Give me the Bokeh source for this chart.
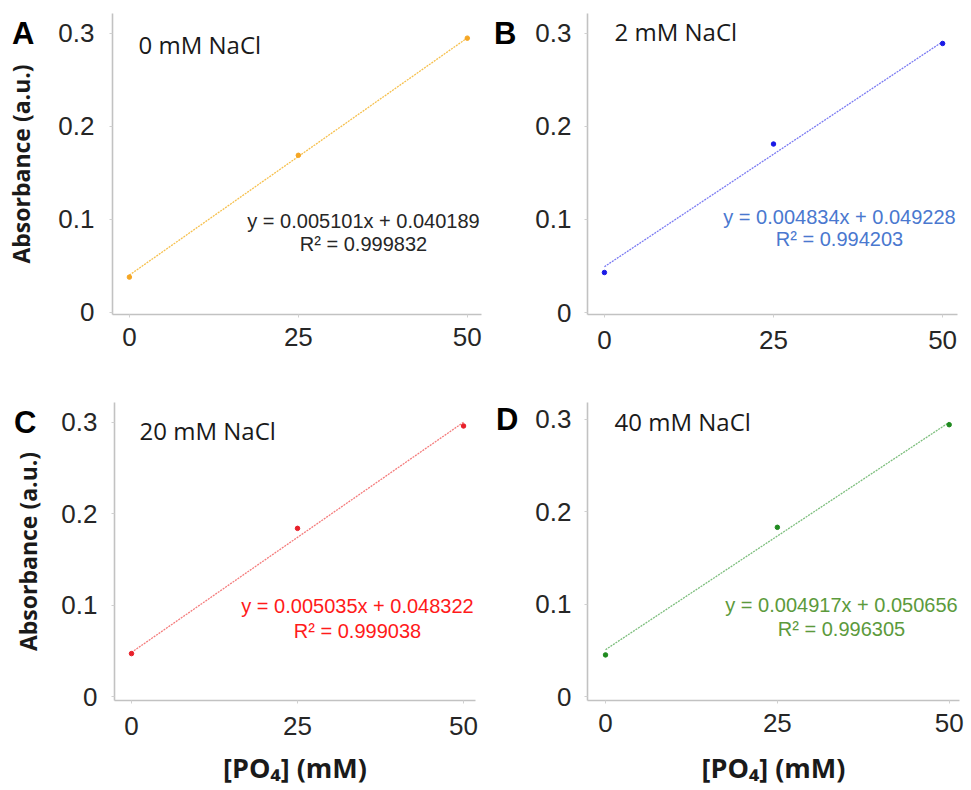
from bokeh.plotting import figure
from bokeh.layouts import column, row
from bokeh.models import Label, Range1d, FixedTicker, LinearAxis
from bokeh.embed import file_html
from bokeh.resources import INLINE

# ---- data ----
x_conc = [0, 25, 50]
x_ticks = [0, 25, 50]
y_ticks = [0, 0.1, 0.2, 0.3]

abs_A = [0.038, 0.169, 0.295]
abs_B = [0.043, 0.181, 0.289]
abs_C = [0.047, 0.184, 0.296]
abs_D = [0.045, 0.183, 0.294]

slopes = [0.005101, 0.004834, 0.005035, 0.004917]
intercepts = [0.040189, 0.049228, 0.048322, 0.050656]
r2_values = ["0.999832", "0.994203", "0.999038", "0.996305"]
nacl_labels = ["0 mM NaCl", "2 mM NaCl", "20 mM NaCl", "40 mM NaCl"]
panel_letters = ["A", "B", "C", "D"]
eq_strings = ["y = 0.005101x + 0.040189", "y = 0.004834x + 0.049228",
              "y = 0.005035x + 0.048322", "y = 0.004917x + 0.050656"]
y_title = "Absorbance (a.u.)"
x_title = "[PO₄] (mM)"

# ---- styles ----
series = [abs_A, abs_B, abs_C, abs_D]
line_colors = ["#F6C04E", "#7B7BF2", "#F47C7C", "#7DBE7D"]
point_colors = ["#F5A623", "#1A1AE6", "#E8202A", "#1F8A1F"]
eq_colors = ["#262626", "#4A78CF", "#FF1A1A", "#5C9A3C"]

geo = [
    dict(w=490, h=372, l=112, r=9, t=13, b=58, xr=(-2.5, 52.1), yr=(-0.0022, 0.3215),
         ystd=15, xstd=10, lstd=21, tstd=-28, xlstd=0),
    dict(w=480, h=372, l=97, r=13, t=13, b=54, xr=(-2.5, 52.2), yr=(-0.0021, 0.3212),
         ystd=13, xstd=13, lstd=16, tstd=0, xlstd=0),
    dict(w=490, h=417, l=114, r=15, t=28, b=89, xr=(-2.56, 51.8), yr=(-0.0043, 0.3217),
         ystd=14, xstd=13, lstd=22, tstd=-33, xlstd=11),
    dict(w=480, h=417, l=97, r=11, t=30, b=89, xr=(-2.62, 51.5), yr=(-0.0043, 0.318),
         ystd=13, xstd=10, lstd=14, tstd=0, xlstd=14),
]
name_pos = [(26, 270), (27, 283), (25, 270), (27, 279)]
eq_pos = [(251, 94, 71), (252, 98, 76), (243, 95, 70), (254, 96, 72)]

figs = []
for i in range(4):
    g = geo[i]
    p = figure(width=g["w"], height=g["h"], output_backend="svg", toolbar_location=None,
               x_range=Range1d(*g["xr"]), y_range=Range1d(*g["yr"]),
               min_border_left=g["l"], min_border_right=g["r"],
               min_border_top=g["t"], min_border_bottom=g["b"])
    p.outline_line_color = None
    p.grid.visible = False

    for ax in (p.xaxis[0], p.yaxis[0]):
        ax.axis_line_color = "#c2c2c2"
        ax.axis_line_width = 1.6
        ax.major_tick_line_color = "#d0d0d0"
        ax.major_tick_out = 3
        ax.major_tick_in = 0
        ax.minor_tick_line_color = None
        ax.major_label_text_font = "Liberation Sans"
        ax.major_label_text_color = "#262626"
        ax.major_label_text_font_size = "26px"
    p.xaxis.ticker = FixedTicker(ticks=x_ticks)
    p.yaxis.ticker = FixedTicker(ticks=y_ticks)
    p.xaxis.major_label_standoff = g["xstd"]
    p.yaxis.major_label_standoff = g["ystd"]
    p.yaxis.major_label_overrides = {0: "0", 0.1: "0.1", 0.2: "0.2", 0.3: "0.3"}

    if i in (2, 3):
        p.xaxis.axis_label = x_title
        p.xaxis.axis_label_text_font = "Open Sans"
        p.xaxis.axis_label_text_font_style = "bold"
        p.xaxis.axis_label_text_font_size = "27px"
        p.xaxis.axis_label_text_color = "#1a1a1a"
        p.xaxis.axis_label_standoff = g["xlstd"]

    # outer left axis carrying the panel letter (and the y title for A / C)
    lax = LinearAxis(ticker=FixedTicker(ticks=[0.3]), major_label_overrides={0.3: panel_letters[i]})
    lax.axis_line_color = None
    lax.major_tick_line_color = None
    lax.minor_tick_line_color = None
    lax.major_tick_out = 0
    lax.major_tick_in = 0
    lax.major_label_standoff = g["lstd"]
    lax.major_label_text_font = "Liberation Sans"
    lax.major_label_text_font_style = "bold"
    lax.major_label_text_font_size = "31px"
    lax.major_label_text_color = "#000000"
    if i in (0, 2):
        lax.axis_label = y_title
        lax.axis_label_text_font = "Open Sans"
        lax.axis_label_text_font_style = "bold"
        lax.axis_label_text_font_size = "23px"
        lax.axis_label_text_color = "#1a1a1a"
        lax.axis_label_standoff = g["tstd"]
    p.add_layout(lax, "left")

    fit_x = [x_conc[0], x_conc[-1]]
    fit_y = [slopes[i] * xv + intercepts[i] for xv in fit_x]
    p.line(fit_x, fit_y, line_color=line_colors[i], line_width=1.3, line_dash="2 1")
    p.scatter(x_conc, series[i], size=4.5, color=point_colors[i], marker="circle")

    p.add_layout(Label(x=name_pos[i][0], y=name_pos[i][1], x_units="screen", y_units="screen",
                       text=nacl_labels[i], text_font="Open Sans", text_font_size="24px",
                       text_color="#1a1a1a", text_baseline="alphabetic"))
    p.add_layout(Label(x=eq_pos[i][0], y=eq_pos[i][1], x_units="screen", y_units="screen",
                       text=eq_strings[i], text_font="Liberation Sans", text_font_size="20px",
                       text_color=eq_colors[i], text_align="center", text_baseline="alphabetic"))
    p.add_layout(Label(x=eq_pos[i][0], y=eq_pos[i][2], x_units="screen", y_units="screen",
                       text="R² = " + r2_values[i], text_font="Liberation Sans", text_font_size="20px",
                       text_color=eq_colors[i], text_align="center", text_baseline="alphabetic"))
    figs.append(p)

layout = column(row(figs[0], figs[1]), row(figs[2], figs[3]))
open("out.html", "w").write(file_html(layout, INLINE))
